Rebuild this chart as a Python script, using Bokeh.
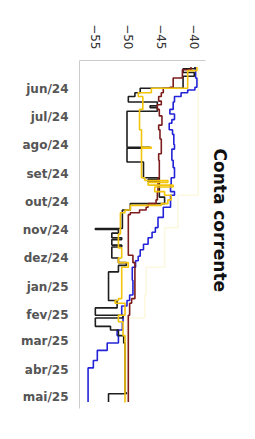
import math
import pandas as pd
from bokeh.plotting import figure
from bokeh.models import Range1d, FixedTicker
from bokeh.embed import file_html
from bokeh.resources import INLINE

# ---------------- data ----------------
month_ticks = ["2024-06-01", "2024-07-01", "2024-08-01", "2024-09-01", "2024-10-01", "2024-11-01",
               "2024-12-01", "2025-01-01", "2025-02-01", "2025-03-01", "2025-04-01", "2025-05-01"]
month_labels = ["jun/24", "jul/24", "ago/24", "set/24", "out/24", "nov/24",
                "dez/24", "jan/25", "fev/25", "mar/25", "abr/25", "mai/25"]
value_ticks = [-55, -50, -45, -40]

blue_dates = ["2024-05-08", "2024-05-20", "2024-05-30", "2024-06-02", "2024-06-05", "2024-06-09",
              "2024-06-15", "2024-06-23", "2024-06-28", "2024-07-04", "2024-07-08", "2024-07-15",
              "2024-07-20", "2024-07-31", "2024-08-05", "2024-08-17", "2024-08-25", "2024-09-05",
              "2024-09-12", "2024-09-20", "2024-09-24", "2024-10-07", "2024-10-18", "2024-10-29",
              "2024-11-03", "2024-11-09", "2024-11-16", "2024-11-22", "2024-11-29", "2024-12-04",
              "2024-12-11", "2024-12-25", "2025-01-10", "2025-01-16", "2025-01-22", "2025-02-01",
              "2025-02-08", "2025-02-17", "2025-02-23", "2025-03-03", "2025-03-11", "2025-03-22",
              "2025-03-30", "2025-05-06"]
blue_vals = [-39.8, -39.6, -39.9, -41.0, -42.0, -43.0,
             -43.2, -43.7, -43.0, -43.4, -43.8, -43.3,
             -43.1, -43.0, -43.4, -43.2, -43.0, -43.5,
             -43.6, -43.0, -43.6, -44.7, -45.5, -45.9,
             -46.4, -47.0, -47.7, -48.2, -48.5, -48.9,
             -49.4, -49.3, -49.8, -50.2, -51.0, -50.8,
             -50.9, -51.7, -51.5, -53.2, -54.7, -55.3,
             -56.1, -56.1]

black_dates = ["2024-05-08", "2024-05-10", "2024-05-14", "2024-05-18", "2024-05-31", "2024-06-05",
               "2024-06-09", "2024-06-15", "2024-06-19", "2024-06-21", "2024-06-25", "2024-08-03",
               "2024-08-04", "2024-08-19", "2024-09-05", "2024-09-07", "2024-09-09", "2024-09-26",
               "2024-10-03", "2024-10-10", "2024-10-30", "2024-10-31", "2024-11-04", "2024-11-09",
               "2024-11-11", "2024-11-17", "2024-11-19", "2024-12-01", "2024-12-06", "2024-12-09",
               "2024-12-16", "2025-01-16", "2025-01-24", "2025-02-01", "2025-02-04", "2025-02-13",
               "2025-02-17", "2025-02-23", "2025-03-03", "2025-04-26", "2025-04-27", "2025-05-06"]
black_vals = [-39.9, -41.7, -40.0, -41.7, -48.2, -49.0,
              -50.0, -45.6, -46.7, -45.6, -50.2, -46.7,
              -50.2, -47.7, -45.3, -47.0, -45.3, -44.5,
              -49.7, -50.9, -55.0, -51.5, -52.5, -51.0,
              -52.5, -51.0, -52.5, -51.5, -50.3, -51.5,
              -53.0, -51.7, -55.0, -50.8, -55.0, -52.7,
              -51.5, -50.7, -50.5, -50.3, -53.0, -53.0]

red_dates = ["2024-05-08", "2024-05-11", "2024-05-20", "2024-05-30", "2024-05-31", "2024-06-05",
             "2024-06-09", "2024-06-14", "2024-06-18", "2024-06-23", "2024-06-30", "2024-07-10",
             "2024-07-15", "2024-07-25", "2024-07-31", "2024-08-10", "2024-08-17", "2024-09-05",
             "2024-09-20", "2024-09-29", "2024-10-03", "2024-10-07", "2024-10-10", "2024-10-13",
             "2024-10-15", "2024-11-28", "2024-12-06", "2025-01-14", "2025-01-19", "2025-02-01",
             "2025-05-06"]
red_vals = [-40.5, -41.8, -43.2, -43.7, -44.7, -45.0,
            -45.4, -45.0, -45.6, -45.3, -44.9, -45.4,
            -45.2, -45.0, -45.0, -45.4, -45.3, -45.5,
            -45.6, -45.8, -47.0, -47.3, -48.3, -49.7,
            -50.0, -49.3, -49.0, -49.5, -49.8, -50.0,
            -50.0]

yellow_dates = ["2024-05-08", "2024-05-12", "2024-05-31", "2024-06-05", "2024-06-09", "2024-06-23",
                "2024-07-15", "2024-08-03", "2024-08-04", "2024-09-05", "2024-09-08", "2024-09-10",
                "2024-09-13", "2024-09-15", "2024-09-20", "2024-09-24", "2024-09-29", "2024-10-03",
                "2024-10-05", "2024-10-10", "2024-10-13", "2024-11-05", "2024-11-20", "2024-12-01",
                "2024-12-06", "2024-12-11", "2025-01-14", "2025-01-16", "2025-01-19", "2025-02-01",
                "2025-02-08", "2025-02-23", "2025-05-06"]
yellow_vals = [-39.6, -41.0, -46.5, -48.5, -47.8, -48.3,
               -48.0, -46.5, -48.0, -47.5, -44.0, -47.0,
               -43.2, -46.0, -44.5, -43.5, -44.0, -45.0,
               -49.7, -50.5, -51.2, -51.5, -51.0, -51.5,
               -50.0, -51.0, -51.5, -52.0, -50.5, -51.5,
               -50.8, -50.5, -50.6]

faint_dates = ["2024-05-08", "2024-07-20", "2024-09-24", "2024-10-29", "2024-12-11", "2025-01-10",
               "2025-02-04", "2025-03-11", "2025-05-06"]
faint_vals = [-39.4, -39.4, -42.5, -44.5, -47.3, -47.5, -50.2, -50.3, -50.3]


def steps(dates, vals):
    d = pd.to_datetime(dates)
    xs, ys = [], []
    for i in range(len(vals)):
        if i > 0:
            xs.append(vals[i - 1])
            ys.append(d[i])
        xs.append(vals[i])
        ys.append(d[i])
    return xs, ys


p = figure(width=247, height=431, output_backend="svg", toolbar_location=None,
           x_axis_location="above", y_axis_type="datetime",
           x_range=Range1d(-57.4, -38.3),
           y_range=Range1d(pd.Timestamp("2025-05-13"), pd.Timestamp("2024-05-01")),
           title="Conta corrente", title_location="right",
           min_border_left=79, min_border_top=60, min_border_right=42, min_border_bottom=23)

p.background_fill_color = "white"
p.border_fill_color = "white"
p.outline_line_color = None
p.xgrid.visible = False
p.ygrid.visible = False

series = [(faint_dates, faint_vals, "#fdf8e0"),
          (blue_dates, blue_vals, "#2323d8"),
          (black_dates, black_vals, "#1e1e1e"),
          (red_dates, red_vals, "#7d1c1c"),
          (yellow_dates, yellow_vals, "#f2c40c")]
for dts, vls, col in series:
    xs, ys = steps(dts, vls)
    p.line(xs, ys, line_color=col, line_width=1.6)

# value axis (top)
xa = p.xaxis[0]
xa.ticker = FixedTicker(ticks=value_ticks)
xa.major_label_orientation = -math.pi / 2
xa.axis_line_color = "#cccccc"
xa.major_tick_line_color = None
xa.minor_tick_line_color = None
xa.major_label_standoff = 5
xa.major_label_text_font = "DejaVu Sans"
xa.major_label_text_font_size = "12px"
xa.major_label_text_color = "#333333"

# date axis (left)
tick_ms = [pd.Timestamp(t).value // 10**6 for t in month_ticks]
ya = p.yaxis[0]
ya.ticker = FixedTicker(ticks=tick_ms)
ya.major_label_overrides = {t: lab for t, lab in zip(tick_ms, month_labels)}
ya.axis_line_color = "#cccccc"
ya.major_tick_line_color = None
ya.minor_tick_line_color = None
ya.major_label_standoff = 5
ya.major_label_text_font = "DejaVu Sans"
ya.major_label_text_font_size = "12px"
ya.major_label_text_font_style = "bold"
ya.major_label_text_color = "#555555"

p.title.text_font = "DejaVu Sans"
p.title.text_font_size = "17px"
p.title.text_font_style = "bold"
p.title.text_color = "#111111"
p.title.align = "left"
p.title.offset = 88
p.title.standoff = 9

open("out.html", "w").write(file_html(p, INLINE))
